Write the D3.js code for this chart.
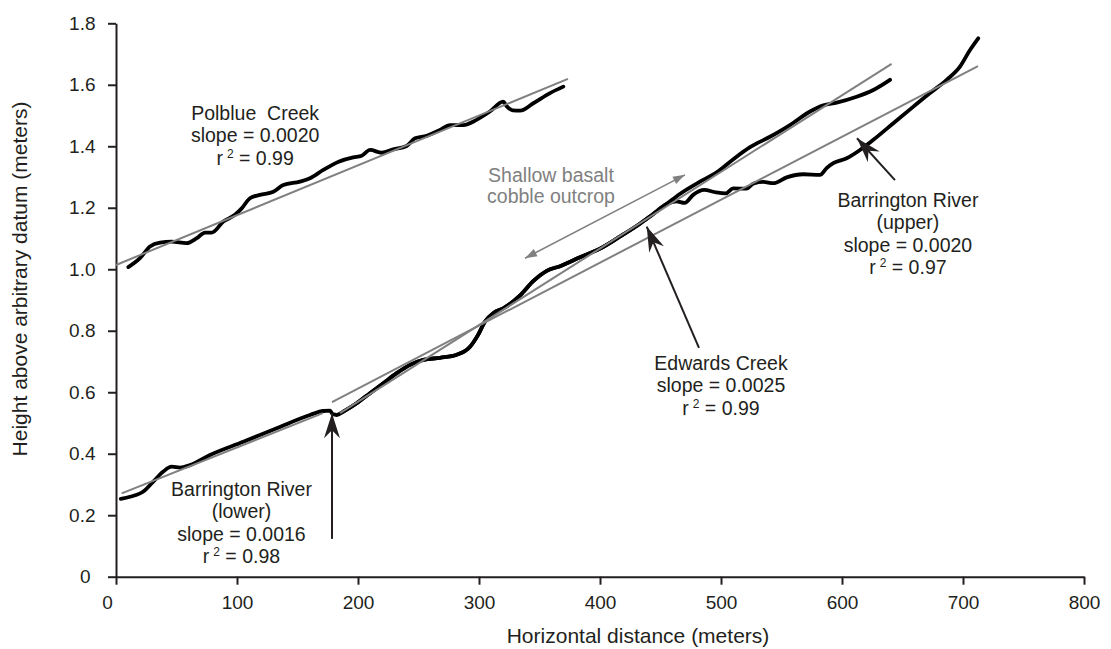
<!DOCTYPE html>
<html lang="en">
<head>
<meta charset="UTF-8">
<title>Channel long profiles</title>
<script src="https://d3js.org/d3.v7.min.js"></script>
<style>
  body { margin: 0; background: #fff; }
  svg text { font-family: 'Liberation Sans', Arial, sans-serif; fill: #231f20; }
</style>
</head>
<body>
<svg id="chart"></svg>
<script>
// [horizontal distance (m), height above datum (m)]
const polblue = [
  [10.2, 1.007], [19.8, 1.036], [28.1, 1.074], [36.4, 1.087], [46, 1.090], [58.4, 1.085],
  [66.7, 1.101], [73.6, 1.119], [79, 1.119], [88.7, 1.155], [98.3, 1.177], [103.9, 1.198],
  [110.7, 1.231], [119, 1.242], [130, 1.252], [138.3, 1.274], [152, 1.285], [160.3, 1.296],
  [171.3, 1.323], [184, 1.350], [196, 1.364], [203, 1.369], [210, 1.388], [219.6, 1.379],
  [229.2, 1.390], [240.2, 1.401], [247.1, 1.426], [256.8, 1.434], [267.8, 1.453], [276, 1.469],
  [287, 1.469], [298, 1.486], [309, 1.513], [320, 1.545], [323, 1.530], [328, 1.517],
  [334, 1.516], [344.9, 1.540], [358.7, 1.573], [369.7, 1.594]
];

const barrington = [
  [4, 0.253], [11.6, 0.260], [22.6, 0.277], [30.8, 0.309], [39.1, 0.342], [46, 0.358],
  [52.9, 0.355], [61.2, 0.363], [77.7, 0.396], [105.2, 0.439], [132.8, 0.483], [160.3, 0.526],
  [171.3, 0.539], [176.9, 0.540], [179, 0.529], [182.4, 0.526], [187.9, 0.537], [198.9, 0.564],
  [209.9, 0.597], [220.9, 0.629], [232, 0.662], [243, 0.689], [254, 0.705], [267.8, 0.712],
  [281.6, 0.722], [292.6, 0.748], [299, 0.785], [305, 0.830], [312, 0.858], [320, 0.873],
  [334, 0.915], [345, 0.962], [356, 0.995], [367, 1.010], [383, 1.038], [400, 1.067],
  [416, 1.105], [433, 1.148], [444, 1.180], [455, 1.212], [463, 1.221], [470, 1.216],
  [477, 1.242], [486, 1.258], [496, 1.250], [504, 1.247], [510, 1.263], [521, 1.262],
  [527, 1.279], [535, 1.284], [543.2, 1.280], [554.3, 1.299], [568, 1.309], [581.8, 1.307],
  [587.3, 1.329], [592.8, 1.345], [603.9, 1.361], [614.9, 1.388], [625.9, 1.421], [642.4, 1.475],
  [659, 1.529], [672.7, 1.573], [686.5, 1.616], [697.5, 1.659], [705.8, 1.713], [712.6, 1.751]
];

const edwards = [
  [187.9, 0.537], [198.9, 0.564], [209.9, 0.597], [220.9, 0.629], [232, 0.662], [243, 0.689],
  [254, 0.705], [267.8, 0.712], [281.6, 0.722], [292.6, 0.748], [299, 0.785], [305, 0.830],
  [312, 0.858], [320, 0.873], [334, 0.915], [345, 0.962], [356, 0.995], [367, 1.010],
  [383, 1.038], [400, 1.067], [416, 1.105], [433, 1.148], [444, 1.180], [455, 1.212],
  [466, 1.245], [482.6, 1.285], [496.4, 1.315], [510.2, 1.358], [524, 1.397], [540.5, 1.431],
  [557, 1.469], [573.6, 1.513], [584.6, 1.533], [595.6, 1.542], [612.1, 1.561], [625.9, 1.583],
  [639.7, 1.616]
];

// regression lines
const polblueFit = [[0, 1.014], [373.5, 1.619]];
const lowerFit = [[4.7, 0.271], [171, 0.532]];
const edwardsFit = [[185.1, 0.532], [641, 1.668]];
const upperFit = [[178.5, 0.568], [712.4, 1.661]];

const xTicks = [0, 100, 200, 300, 400, 500, 600, 700, 800];
const yTicks = [0, 0.2, 0.4, 0.6, 0.8, 1.0, 1.2, 1.4, 1.6, 1.8];

const labelNames = ["Polblue\u00a0 Creek", "Barrington River", "Edwards Creek", "Barrington River"];
const labelSubs = ["", "(lower)", "", "(upper)"];
const labelSlopes = ["0.0020", "0.0016", "0.0025", "0.0020"];
const labelR2 = ["0.99", "0.98", "0.99", "0.97"];
const labelAt = [[115, 1.486], [103.7, 0.2625], [500, 0.6724], [654.5, 1.2036]];

// pointer arrows: [tail, tip]
const arrows = [
  [[178.5, 0.123], [178.5, 0.532]],
  [[481.8, 0.744], [438.6, 1.139]],
  [[643.8, 1.290], [612.4, 1.426]]
];
const outcropArrow = [[338, 1.036], [470.2, 1.307]];
const outcropText = ["Shallow basalt", "cobble outcrop"];
const outcropAt = [359.5, 1.285];

const width = 1111, height = 649;
const margin = { top: 23.3, right: 27, bottom: 72.3, left: 116 };

const svg = d3.select("#chart")
  .attr("width", width)
  .attr("height", height);

const x = d3.scaleLinear().domain([0, 800]).range([margin.left, width - margin.right]);
const y = d3.scaleLinear().domain([0, 1.8]).range([height - margin.bottom, margin.top]);

const defs = svg.append("defs");
defs.append("marker")
  .attr("id", "headBlack")
  .attr("markerUnits", "userSpaceOnUse")
  .attr("viewBox", "-26 -9 27 18")
  .attr("markerWidth", 27).attr("markerHeight", 18)
  .attr("refX", 0).attr("refY", 0)
  .attr("orient", "auto")
  .append("path")
  .attr("d", "M0,0 L-25,-8 L-17,0 L-25,8 Z")
  .attr("fill", "#231f20");
defs.append("marker")
  .attr("id", "headGray")
  .attr("markerUnits", "userSpaceOnUse")
  .attr("viewBox", "-13 -5 14 10")
  .attr("markerWidth", 14).attr("markerHeight", 10)
  .attr("refX", 0).attr("refY", 0)
  .attr("orient", "auto-start-reverse")
  .append("path")
  .attr("d", "M0,0 L-12,-4 L-12,4 Z")
  .attr("fill", "#808080");

// axes
const yAxis = svg.append("g")
  .attr("transform", `translate(${margin.left},0)`)
  .call(d3.axisLeft(y).tickValues(yTicks).tickSize(8).tickSizeOuter(0).tickPadding(12.5)
    .tickFormat(d => d === 0 ? "0" : d3.format(".1f")(d)));

const xAxis = svg.append("g")
  .attr("transform", `translate(0,${height - margin.bottom})`)
  .call(d3.axisBottom(x).tickValues(xTicks).tickSize(8).tickSizeOuter(0).tickPadding(10.8));

[xAxis, yAxis].forEach(g => {
  g.attr("font-size", 19).attr("font-family", null);
  g.selectAll("path, line").attr("stroke", "#231f20").attr("stroke-width", 2);
});
yAxis.selectAll(".tick text").filter(d => d === 0).attr("dx", -5);
xAxis.selectAll(".tick text").filter(d => d === 0).attr("dx", -9);

svg.append("text")
  .attr("transform", `translate(27,279) rotate(-90)`)
  .attr("text-anchor", "middle")
  .attr("font-size", 21)
  .text("Height above arbitrary datum (meters)");

svg.append("text")
  .attr("x", 638).attr("y", 643)
  .attr("text-anchor", "middle")
  .attr("font-size", 21)
  .text("Horizontal distance (meters)");

// profiles
const line = d3.line()
  .x(d => x(d[0]))
  .y(d => y(d[1]))
  .curve(d3.curveMonotoneX);

svg.append("g")
  .selectAll("path")
  .data([polblue, barrington, edwards])
  .enter().append("path")
  .attr("d", line)
  .attr("fill", "none")
  .attr("stroke", "#000")
  .attr("stroke-width", 3.8)
  .attr("stroke-linecap", "round")
  .attr("stroke-linejoin", "round");

const straight = d3.line().x(d => x(d[0])).y(d => y(d[1]));

svg.append("g")
  .selectAll("path")
  .data([polblueFit, lowerFit, edwardsFit, upperFit])
  .enter().append("path")
  .attr("d", straight)
  .attr("fill", "none")
  .attr("stroke", "#808080")
  .attr("stroke-width", 2);

// annotation arrows
svg.append("g")
  .selectAll("path")
  .data(arrows)
  .enter().append("path")
  .attr("d", straight)
  .attr("stroke", "#231f20")
  .attr("stroke-width", 2)
  .attr("marker-end", "url(#headBlack)");

svg.append("path")
  .attr("d", straight(outcropArrow))
  .attr("stroke", "#808080")
  .attr("stroke-width", 1.6)
  .attr("marker-start", "url(#headGray)")
  .attr("marker-end", "url(#headGray)");

const lineGap = 22.5;

// stream labels
labelNames.forEach((name, i) => {
  const cx = x(labelAt[i][0]);
  const by = y(labelAt[i][1]);
  const rows = [name];
  if (labelSubs[i]) rows.push(labelSubs[i]);
  rows.push("slope = " + labelSlopes[i]);

  const g = svg.append("g").attr("font-size", 19.5).attr("text-anchor", "middle");
  rows.forEach((r, j) => {
    g.append("text").attr("x", cx).attr("y", by + j * lineGap).text(r);
  });
  const t = g.append("text").attr("x", cx).attr("y", by + rows.length * lineGap);
  t.append("tspan").text("r\u2009");
  t.append("tspan").attr("font-size", 12).attr("dy", -7).text("2");
  t.append("tspan").attr("dy", 7).text(" = " + labelR2[i]);
});

svg.append("g")
  .attr("font-size", 19.5)
  .attr("text-anchor", "middle")
  .selectAll("text")
  .data(outcropText)
  .enter().append("text")
  .attr("x", x(outcropAt[0]))
  .attr("y", (d, i) => y(outcropAt[1]) + i * 21.6)
  .style("fill", "#808080")
  .text(d => d);
</script>
</body>
</html>
